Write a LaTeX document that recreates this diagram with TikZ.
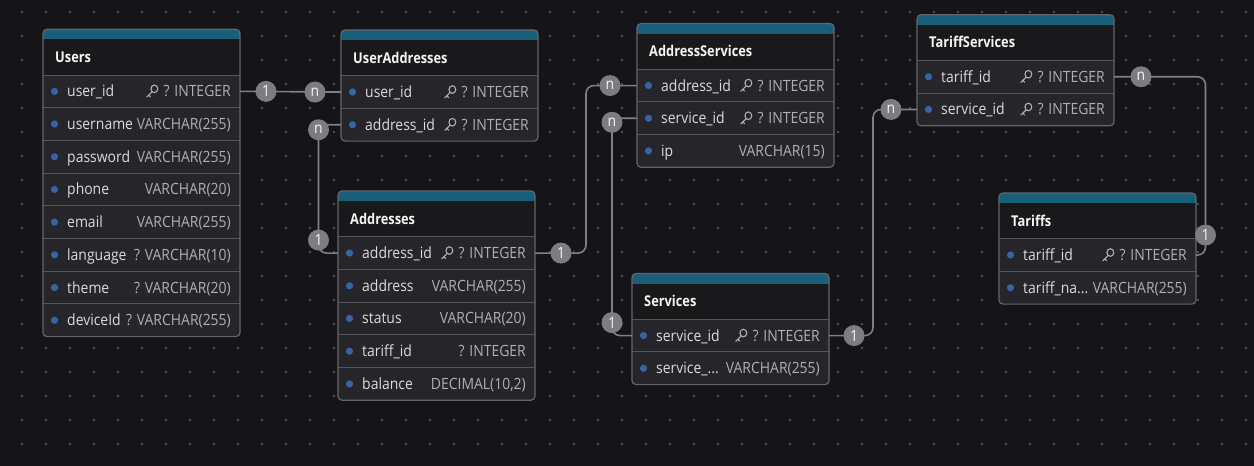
\documentclass[tikz,border=0pt]{standalone}
\usepackage{fontspec}
\setmainfont{Open Sans}
\newfontfamily\titlefont{Open Sans}[FakeStretch=0.86]
\newfontfamily\rowfont{Open Sans}[FakeStretch=0.9]
\definecolor{bgc}{RGB}{21,21,25}
\definecolor{gridc}{RGB}{52,84,116}
\definecolor{rowbgc}{RGB}{38,38,42}
\definecolor{titlebgc}{RGB}{25,25,28}
\definecolor{tealc}{RGB}{25,95,122}
\definecolor{borderc}{RGB}{100,100,106}
\definecolor{sepc}{RGB}{85,85,92}
\definecolor{dotc}{RGB}{55,100,165}
\definecolor{fieldc}{RGB}{220,220,224}
\definecolor{typec}{RGB}{175,175,181}
\definecolor{titlec}{RGB}{245,245,245}
\definecolor{badgec}{RGB}{125,125,128}
\definecolor{linec}{RGB}{128,128,132}
\tikzset{
 fieldtxt/.style={anchor=base west, inner sep=0pt, text=fieldc, font=\rowfont\fontsize{15.5}{17}\selectfont},
 typetxt/.style={anchor=base east, inner sep=0pt, text=typec, font=\rowfont\fontsize{15.5}{17}\selectfont},
 titletxt/.style={anchor=base west, inner sep=0pt, text=titlec, font=\titlefont\bfseries\fontsize{14.9}{17}\selectfont},
 rowcell/.style={minimum width=197pt, minimum height=32.7pt, inner sep=0pt, outer sep=0pt},
 badge/.style={circle, fill=badgec, minimum size=21pt, inner sep=0pt, text=titlec, font=\rowfont\fontsize{15.5}{16}\selectfont},
 conn/.style={draw=linec, line width=1.6pt, rounded corners=8pt},
 keyicon/.style={draw=typec, line width=1.1pt},
}
\newcommand\ertable[5]{%
 \pgfmathsetmacro\tbot{#3+45.7+#5*32.7}%
 \fill[rowbgc, rounded corners=4pt] (#2,#3) rectangle (#2+197,\tbot);
 \begin{scope}
 \clip[rounded corners=4pt] (#2,#3) rectangle (#2+197,\tbot);
 \fill[tealc] (#2,#3) rectangle (#2+197,#3+10);
 \fill[titlebgc] (#2,#3+10) rectangle (#2+197,#3+45.7);
 \end{scope}
 \node[titletxt] (#1) at (#2+12,#3+33) {#4};
 \foreach \i in {1,...,#5} \draw[sepc, line width=1pt] (#2,#3+45.7+\i*32.7-32.7) -- ++(197,0);
 \draw[borderc, line width=1.2pt, rounded corners=4pt] (#2,#3) rectangle (#2+197,\tbot);
 \gdef\curx{#2}\gdef\cury{#3}\gdef\curid{#1}%
}
\newcommand\errow[4]{%
 \pgfmathsetmacro\rowy{\cury+45.7+(#1-0.5)*32.7}%
 \pgfmathsetmacro\rowx{\curx+98.5}%
 \node[rowcell] (\curid-#1) at (\rowx,\rowy) {};
 \fill[dotc] ([xshift=11.5pt]\curid-#1.west) circle (3.6pt);
 \node[fieldtxt] (\curid-#1-f) at ([xshift=24pt,yshift=-5.5pt]\curid-#1.west) {#2};
 \node[typetxt] (\curid-#1-t) at ([xshift=-9pt,yshift=-5.5pt]\curid-#1.east) {#3};
 \ifnum#4=1
  \draw[keyicon] ([xshift=-9pt,yshift=8pt]\curid-#1-t.base west) ellipse (3.4pt and 3.8pt);
  \draw[keyicon, line cap=round] ([xshift=-11.2pt,yshift=5.1pt]\curid-#1-t.base west) -- ([xshift=-16.5pt,yshift=-0.1pt]\curid-#1-t.base west)
    ([xshift=-14.6pt,yshift=1.8pt]\curid-#1-t.base west) -- ([xshift=-12.8pt,yshift=0pt]\curid-#1-t.base west);
 \fi
}
\begin{document}
\begin{tikzpicture}[x=1pt,y=-1pt]
\fill[bgc] (0,0) rectangle (1254,466);
\foreach \gx in {0,...,51} \foreach \gy in {0,...,18}
  \fill[gridc] (20.7+24*\gx,11+24*\gy) rectangle ++(2,2);

% Users
\ertable{Users}{43}{29.3}{Users}{8}
\errow{1}{user\_id}{? INTEGER}{1}
\errow{2}{username}{VARCHAR(255)}{0}
\errow{3}{password}{VARCHAR(255)}{0}
\errow{4}{phone}{VARCHAR(20)}{0}
\errow{5}{email}{VARCHAR(255)}{0}
\errow{6}{language}{? VARCHAR(10)}{0}
\errow{7}{theme}{? VARCHAR(20)}{0}
\errow{8}{deviceId}{? VARCHAR(255)}{0}

% UserAddresses
\ertable{UA}{341}{30}{UserAddresses}{2}
\errow{1}{user\_id}{? INTEGER}{1}
\errow{2}{address\_id}{? INTEGER}{1}

% Addresses
\ertable{Addresses}{338}{191}{Addresses}{5}
\errow{1}{address\_id}{? INTEGER}{1}
\errow{2}{address}{VARCHAR(255)}{0}
\errow{3}{status}{VARCHAR(20)}{0}
\errow{4}{tariff\_id}{? INTEGER}{0}
\errow{5}{balance}{DECIMAL(10,2)}{0}

% AddressServices
\ertable{AS}{637}{23.5}{AddressServices}{3}
\errow{1}{address\_id}{? INTEGER}{1}
\errow{2}{service\_id}{? INTEGER}{1}
\errow{3}{ip}{VARCHAR(15)}{0}

% Services
\ertable{Services}{632}{273.5}{Services}{2}
\errow{1}{service\_id}{? INTEGER}{1}
\errow{2}{service\_...}{VARCHAR(255)}{0}

% TariffServices
\ertable{TS}{917}{14.7}{TariffServices}{2}
\errow{1}{tariff\_id}{? INTEGER}{1}
\errow{2}{service\_id}{? INTEGER}{1}

% Tariffs
\ertable{Tariffs}{999}{193}{Tariffs}{2}
\errow{1}{tariff\_id}{? INTEGER}{1}
\errow{2}{tariff\_na...}{VARCHAR(255)}{0}

% connector bend columns
\coordinate (cA) at (318.5,0);
\coordinate (cB) at (586,0);
\coordinate (cC) at (612,0);
\coordinate (cD) at (873,0);
\coordinate (cE) at (1205.5,0);

\draw[conn] (Users-1.east) -- (UA-1.west);
\draw[conn] (UA-2.west) -- (UA-2.west -| cA) -- (Addresses-1.west -| cA) -- (Addresses-1.west);
\draw[conn] (Addresses-1.east) -- (Addresses-1.east -| cB) -- (AS-1.west -| cB) -- (AS-1.west);
\draw[conn] (AS-2.west) -- (AS-2.west -| cC) -- (Services-1.west -| cC) -- (Services-1.west);
\draw[conn] (Services-1.east) -- (Services-1.east -| cD) -- (TS-2.west -| cD) -- (TS-2.west);
\draw[conn] (TS-1.east) -- (TS-1.east -| cE) -- (Tariffs-1.east -| cE) -- (Tariffs-1.east);

% cardinality badges
\node[badge] (b1a) at ([xshift=26pt]Users-1.east) {1};
\node[badge] (b1b) at ([xshift=-26pt]UA-1.west) {n};
\node[badge] (b2a) at ([yshift=-5pt]UA-2.west -| cA) {n};
\node[badge] (b2b) at ([yshift=13pt]Addresses-1.west -| cA) {1};
\node[badge] (b3a) at ([xshift=26pt]Addresses-1.east) {1};
\node[badge] (b3b) at ([xshift=-27pt]AS-1.west) {n};
\node[badge] (b4a) at ([yshift=-4pt]AS-2.west -| cC) {n};
\node[badge] (b4b) at ([yshift=13pt]Services-1.west -| cC) {1};
\node[badge] (b5a) at ([xshift=25pt]Services-1.east) {1};
\node[badge] (b5b) at ([xshift=-26pt]TS-2.west) {n};
\node[badge] (b6a) at ([xshift=27pt]TS-1.east) {n};
\node[badge] (b6b) at ([yshift=20pt]Tariffs-1.east -| cE) {1};
\end{tikzpicture}
\end{document}
